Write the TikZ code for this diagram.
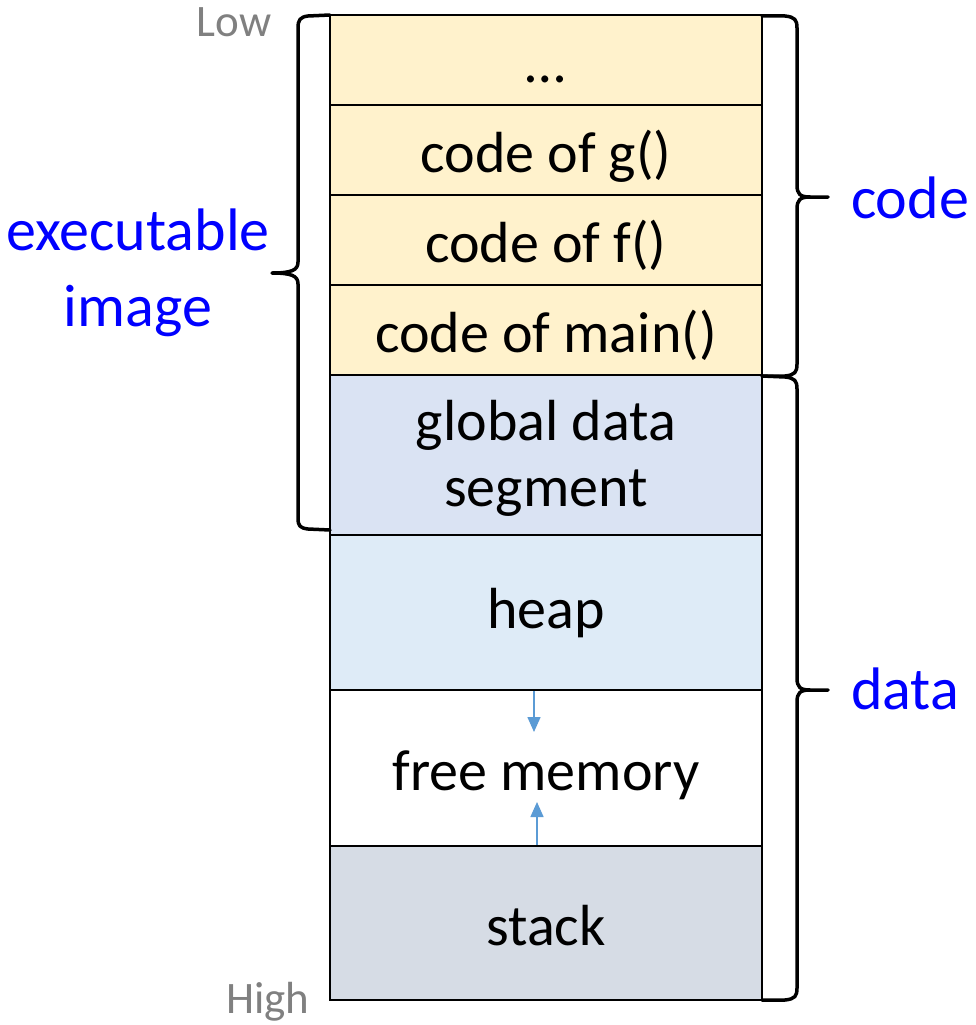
\documentclass[tikz,border=0pt]{standalone}
\usepackage{fontspec}
\setmainfont{Carlito}
\usetikzlibrary{arrows.meta}
\definecolor{codefill}{HTML}{FFF2CC}
\definecolor{globfill}{HTML}{DAE3F3}
\definecolor{heapfill}{HTML}{DEEBF7}
\definecolor{stackfill}{HTML}{D6DCE5}
\definecolor{arrblue}{HTML}{5B9BD5}
\definecolor{lblblue}{HTML}{0000FF}
\definecolor{addrgray}{HTML}{808080}
\tikzset{
  seg/.style={draw=black, line width=2.5pt, minimum width=432pt, inner sep=0pt, anchor=center,
    font=\fontsize{58}{66}\selectfont, text height=44pt, text depth=0pt},
  brace/.style={draw=black, line width=3.5pt, line join=round, line cap=round},
  growarr/.style={draw=arrblue, line width=1.5pt, -{Triangle[length=15pt,width=13pt]}},
  sidelbl/.style={text=lblblue, font=\fontsize{60}{76}\selectfont, align=center},
  addr/.style={text=addrgray, font=\fontsize{45}{50}\selectfont}
}
\begin{document}
\begin{tikzpicture}[x=1pt,y=-1pt]
\useasboundingbox (0,0) rectangle (975,1025);
% memory segments
\node[seg, fill=codefill, minimum height=90pt] (r1) at (546,60) {…};
\node[seg, fill=codefill, minimum height=90pt] (r2) at (546,150) {code of g()};
\node[seg, fill=codefill, minimum height=90pt] (r3) at (546,240) {code of f()};
\node[seg, fill=codefill, minimum height=90pt] (r4) at (546,330) {code of main()};
\node[seg, fill=globfill, minimum height=160pt, text height=102pt] (r5) at (546,455)
  {\begin{tabular}[b]{@{}c@{}}global data\\segment\end{tabular}};
\node[seg, fill=heapfill, minimum height=155pt, text height=32pt] (r6) at (546,612.5) {heap};
\node[seg, fill=white, minimum height=156pt] (r7) at (546,768) {free memory};
\node[seg, fill=stackfill, minimum height=154pt] (r8) at (546,923) {stack};
% growth arrows
\coordinate (hd) at (534,732);
\coordinate (su) at (537,802);
\draw[growarr] (r6.south -| hd) -- (hd);
\draw[growarr] (r8.north -| su) -- (su);
% left brace (executable image)
\draw[brace] (330,15) -- (308,16) .. controls (300,17) and (298,20) .. (298,28)
  -- (298,262) .. controls (298,270) and (292,273) .. (272,273)
  .. controls (292,273) and (298,276) .. (298,284)
  -- (298,518) .. controls (298,526) and (300,528) .. (308,529) -- (330,530);
% right brace (code)
\draw[brace] (762,16) -- (785,16) .. controls (795,17) and (797,20) .. (797,28)
  -- (797,185) .. controls (797,194) and (800,197) .. (810,197) -- (828,197);
\draw[brace] (810,197) .. controls (800,197) and (797,200) .. (797,209)
  -- (797,364) .. controls (797,372) and (795,375) .. (785,376) -- (762,376);
% right brace (data)
\draw[brace] (762,376) -- (785,377) .. controls (795,378) and (797,381) .. (797,389)
  -- (797,678) .. controls (797,687) and (800,690) .. (810,690) -- (828,690);
\draw[brace] (810,690) .. controls (800,690) and (797,693) .. (797,702)
  -- (797,988) .. controls (797,996) and (795,999) .. (785,1000) -- (762,1000);
% labels
\node[sidelbl] (lexe) at (138,273) {executable\\image};
\node[sidelbl] (lcode) at (910,198) {code};
\node[sidelbl] (ldata) at (905,689) {data};
\node[addr] (llow) at (234,22) {Low};
\node[addr] (lhigh) at (268,1002) {High};
\end{tikzpicture}
\end{document}
